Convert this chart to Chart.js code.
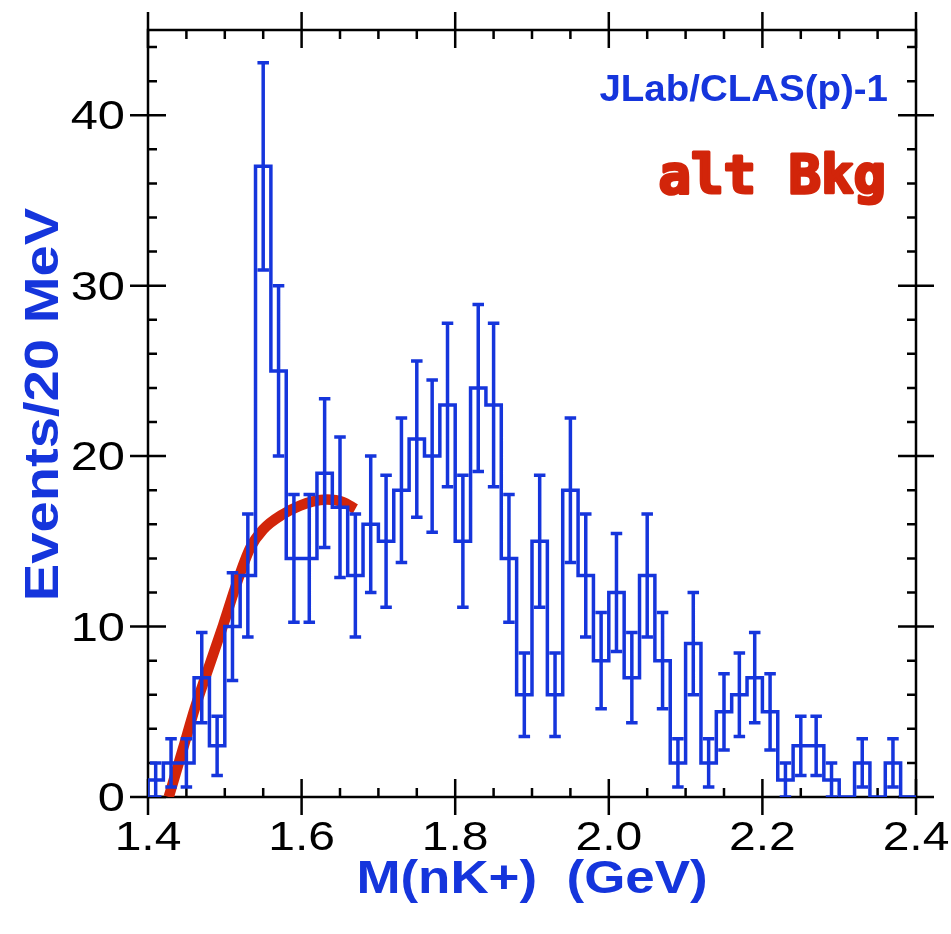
<!DOCTYPE html>
<html>
<head>
<meta charset="utf-8">
<title>M(nK+) spectrum</title>
<script src="https://cdn.jsdelivr.net/npm/chart.js@4.4.1/dist/chart.umd.min.js"></script>
<style>
  html, body { margin: 0; padding: 0; background: #fff; }
  #wrap { width: 951px; height: 934px; }
</style>
</head>
<body>
<div id="wrap"><canvas id="massChart" width="951" height="934"></canvas></div>
<script>
// events per 20 MeV bin, first bin starts at 1.40 GeV
const binStart = 1.40;
const binWidth = 0.02;
const counts = [1, 2, 2, 7, 3, 10, 13, 37, 25, 14,
                14, 19, 17, 13, 16, 15, 18, 21, 20, 23,
                15, 24, 23, 14, 6, 15, 6, 18, 13, 8,
                12, 7, 13, 8, 2, 9, 2, 5, 6, 7,
                5, 1, 3, 3, 1, 0, 2, 0, 2, 0];

// alternative background shape
const bkgMass   = [1.427, 1.446, 1.461, 1.476, 1.498, 1.516, 1.533, 1.550, 1.576, 1.598, 1.615, 1.633, 1.654, 1.670];
const bkgEvents = [0.0,   2.9,   5.2,   7.2,   10.1,  12.6,  14.6,  15.7,  16.6,  17.1,  17.35, 17.45, 17.3,  16.9];

const xTickLabels = ['1.4', '1.6', '1.8', '2.0', '2.2', '2.4'];
const yTickLabels = ['0', '10', '20', '30', '40'];

const BLUE = '#1535dc';
const RED = '#d2250a';
const capHalf = 0.0075;

// step outline: left edge of every bin, closed at 2.40
const stepPoints = [{ x: binStart, y: 0 }];
counts.forEach((n, i) => stepPoints.push({ x: binStart + i * binWidth, y: n }));
stepPoints.push({ x: binStart + counts.length * binWidth, y: counts[counts.length - 1] });

// sqrt(N) error bars with caps, segments split by null points
const errorPoints = [];
counts.forEach((n, i) => {
  if (n === 0) return;
  const xc = binStart + (i + 0.5) * binWidth;
  const s = Math.sqrt(n);
  errorPoints.push({ x: xc, y: n - s }, { x: xc, y: n + s }, { x: xc, y: null });
  errorPoints.push({ x: xc - capHalf, y: n + s }, { x: xc + capHalf, y: n + s }, { x: xc, y: null });
  errorPoints.push({ x: xc - capHalf, y: n - s }, { x: xc + capHalf, y: n - s }, { x: xc, y: null });
});

const bkgPoints = bkgMass.map((m, i) => ({ x: m, y: bkgEvents[i] }));

function drawText(ctx, text, x, y, font, color, align, sx, rot, outline) {
  ctx.save();
  ctx.translate(x, y);
  if (rot) ctx.rotate(rot);
  ctx.scale(sx, 1);
  ctx.font = font;
  ctx.fillStyle = color;
  ctx.textAlign = align;
  ctx.textBaseline = 'alphabetic';
  ctx.fillText(text, 0, 0);
  if (outline) {
    ctx.strokeStyle = color;
    ctx.lineWidth = outline;
    ctx.lineJoin = 'round';
    ctx.strokeText(text, 0, 0);
  }
  ctx.restore();
}

// frame, ticks on all four sides, labels
const framePlugin = {
  id: 'frame',
  beforeDatasetsDraw(chart) {
    const { ctx, chartArea: a, scales } = chart;
    const xs = scales.x, ys = scales.y;
    ctx.save();
    ctx.strokeStyle = '#000';
    ctx.lineWidth = 2.5;
    ctx.strokeRect(a.left, a.top, a.right - a.left, a.bottom - a.top);

    ctx.beginPath();
    for (let k = 0; k <= 20; k++) {
      const px = xs.getPixelForValue(1.4 + k * 0.05);
      const major = k % 4 === 0;
      if (major) {
        ctx.moveTo(px, a.bottom + 18); ctx.lineTo(px, a.bottom - 18);
        ctx.moveTo(px, a.top - 18); ctx.lineTo(px, a.top + 18);
      } else {
        ctx.moveTo(px, a.bottom); ctx.lineTo(px, a.bottom - 9);
        ctx.moveTo(px, a.top); ctx.lineTo(px, a.top + 9);
      }
    }
    for (let v = 0; v <= 44; v += 2) {
      const py = ys.getPixelForValue(v);
      const major = v % 10 === 0;
      if (major) {
        ctx.moveTo(a.left - 18, py); ctx.lineTo(a.left + 18, py);
        ctx.moveTo(a.right - 18, py); ctx.lineTo(a.right + 18, py);
      } else {
        ctx.moveTo(a.left, py); ctx.lineTo(a.left + 9, py);
        ctx.moveTo(a.right, py); ctx.lineTo(a.right - 9, py);
      }
    }
    ctx.stroke();
    ctx.restore();

    const tickFont = '40px "Liberation Sans", Arial, sans-serif';
    xTickLabels.forEach(t => {
      drawText(ctx, t, xs.getPixelForValue(parseFloat(t)), a.bottom + 53, tickFont, '#000', 'center', 1.2);
    });
    yTickLabels.forEach(t => {
      drawText(ctx, t, a.left - 23, ys.getPixelForValue(parseFloat(t)) + 14, tickFont, '#000', 'right', 1.22);
    });

    const titleFont = 'bold 46px "Liberation Sans", Arial, sans-serif';
    drawText(ctx, 'M(nK+)  (GeV)', (a.left + a.right) / 2, a.bottom + 96, titleFont, BLUE, 'center', 1.15);
    drawText(ctx, 'Events/20 MeV', a.left - 90, (a.top + a.bottom) / 2 - 9,
             'bold 48px "Liberation Sans", Arial, sans-serif', BLUE, 'center', 1.17, -Math.PI / 2);

    drawText(ctx, 'JLab/CLAS(p)-1', a.right - 28, a.top + 71,
             'bold 37px "Liberation Sans", Arial, sans-serif', BLUE, 'right', 1.04);
    drawText(ctx, 'alt Bkg', a.right - 30, a.top + 163,
             'bold 54px "DejaVu Sans Mono", monospace', RED, 'right', 1.0, 0, 3);
  }
};

new Chart(document.getElementById('massChart'), {
  type: 'line',
  data: {
    datasets: [
      {
        label: 'data',
        data: stepPoints,
        stepped: 'before',
        borderColor: BLUE,
        borderWidth: 3.5,
        pointRadius: 0,
        fill: false,
        order: 0
      },
      {
        label: 'errors',
        data: errorPoints,
        borderColor: BLUE,
        borderWidth: 3.5,
        pointRadius: 0,
        spanGaps: false,
        fill: false,
        order: 0
      },
      {
        label: 'alt Bkg',
        data: bkgPoints,
        borderColor: RED,
        borderWidth: 10.5,
        cubicInterpolationMode: 'monotone',
        pointRadius: 0,
        clip: 0,
        fill: false,
        order: 1
      }
    ]
  },
  options: {
    responsive: false,
    animation: false,
    devicePixelRatio: 1,
    layout: { padding: { left: 148, right: 35, top: 30, bottom: 137 } },
    plugins: { legend: { display: false }, tooltip: { enabled: false } },
    scales: {
      x: { type: 'linear', min: 1.4, max: 2.4, display: false },
      y: { type: 'linear', min: 0, max: 45, display: false }
    }
  },
  plugins: [framePlugin]
});
</script>
</body>
</html>
